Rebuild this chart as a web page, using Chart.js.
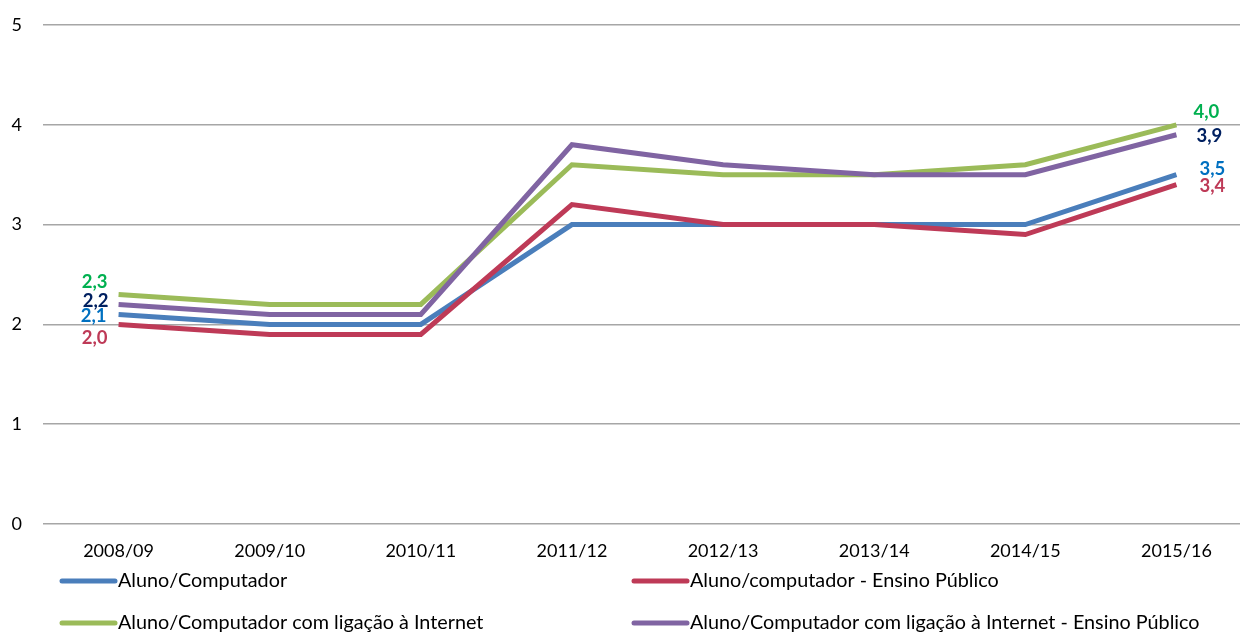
<!DOCTYPE html>
<html>
<head>
<meta charset="utf-8">
<script src="https://cdn.jsdelivr.net/npm/chart.js@4/dist/chart.umd.min.js"></script>
<style>
  html, body { margin: 0; padding: 0; background: #fff; overflow: hidden; }
  #wrap { width: 1240px; height: 635px; overflow: hidden; position: relative; }
  canvas { display: block; }
</style>
</head>
<body>
<div id="wrap"><canvas id="c" width="1256" height="635"></canvas></div>
<script>
const categories = ['2008/09', '2009/10', '2010/11', '2011/12', '2012/13', '2013/14', '2014/15', '2015/16'];
const alunoComputador = [2.1, 2.0, 2.0, 3.0, 3.0, 3.0, 3.0, 3.5];
const alunoComputadorPublico = [2.0, 1.9, 1.9, 3.2, 3.0, 3.0, 2.9, 3.4];
const alunoInternet = [2.3, 2.2, 2.2, 3.6, 3.5, 3.5, 3.6, 4.0];
const alunoInternetPublico = [2.2, 2.1, 2.1, 3.8, 3.6, 3.5, 3.5, 3.9];
const seriesNames = [
  'Aluno/Computador',
  'Aluno/computador - Ensino Público',
  'Aluno/Computador com ligação à Internet',
  'Aluno/Computador com ligação à Internet - Ensino Público'
];
const yMin = 0, yMax = 5, yStep = 1;

const FONT = 'Lato, "Open Sans", sans-serif';

const lineColors = ['#4A7EBB', '#BE3A57', '#9BBB59', '#8064A2'];
const labelColors = ['#0070C0', '#BE3A57', '#00B050', '#002060'];
// label offsets relative to first/last point [dx, dy]
const startOffsets = [[-25, 2], [-24, 14], [-24, -12], [-23, -3]];
const endOffsets = [[36, -6], [36, 1], [30, -13], [33, 1]];

const valueLabels = {
  id: 'valueLabels',
  afterDatasetsDraw(chart) {
    const ctx = chart.ctx;
    ctx.save();
    ctx.font = 'bold 18.5px ' + FONT;
    ctx.textAlign = 'center';
    ctx.textBaseline = 'middle';
    chart.data.datasets.forEach((ds, i) => {
      const meta = chart.getDatasetMeta(i);
      const pts = meta.data;
      const first = pts[0], last = pts[pts.length - 1];
      ctx.fillStyle = labelColors[i];
      const fmt = v => v.toFixed(1).replace('.', ',');
      ctx.fillText(fmt(ds.data[0]), first.x + startOffsets[i][0], first.y + startOffsets[i][1]);
      ctx.fillText(fmt(ds.data[ds.data.length - 1]), last.x + endOffsets[i][0], last.y + endOffsets[i][1]);
    });
    ctx.restore();
  }
};

const customLegend = {
  id: 'customLegend',
  afterDraw(chart) {
    const ctx = chart.ctx;
    const cols = [60, 632];
    const rows = [581, 623];
    ctx.save();
    ctx.font = '19.8px ' + FONT;
    ctx.textBaseline = 'middle';
    ctx.textAlign = 'left';
    chart.data.datasets.forEach((ds, i) => {
      const x = cols[i % 2], y = rows[Math.floor(i / 2)];
      ctx.strokeStyle = ds.borderColor;
      ctx.lineWidth = 5;
      ctx.lineCap = 'round';
      ctx.beginPath();
      ctx.moveTo(x + 2, y);
      ctx.lineTo(x + 55, y);
      ctx.stroke();
      ctx.fillStyle = '#000';
      ctx.fillText(ds.label, x + 58, y);
    });
    ctx.restore();
  }
};

const data = {
  labels: categories,
  datasets: [alunoComputador, alunoComputadorPublico, alunoInternet, alunoInternetPublico].map((d, i) => ({
    label: seriesNames[i],
    data: d,
    borderColor: lineColors[i],
    backgroundColor: lineColors[i],
    borderWidth: 5,
    pointRadius: 0,
    tension: 0,
    order: 4 - i
  }))
};

new Chart(document.getElementById('c'), {
  type: 'line',
  data,
  options: {
    responsive: false,
    maintainAspectRatio: false,
    animation: false,
    devicePixelRatio: 1,
    layout: { padding: { top: 25, right: 4, left: 0, bottom: 0 } },
    plugins: {
      legend: { display: false },
      tooltip: { enabled: false }
    },
    scales: {
      x: {
        offset: true,
        grid: { display: false, drawTicks: false },
        border: { display: false },
        ticks: { color: '#000', font: { family: FONT, size: 18 }, padding: 16, maxRotation: 0, autoSkip: false },
        afterFit(scale) { scale.height = 111; }
      },
      y: {
        min: yMin, max: yMax,
        ticks: { stepSize: yStep, color: '#000', font: { family: FONT, size: 18 }, padding: 21 },
        grid: { color: '#A6A6A6', lineWidth: 1.5, drawTicks: false },
        border: { display: false },
        afterFit(scale) { scale.width = 43; scale.paddingTop = 0; scale.paddingBottom = 0; }
      }
    }
  },
  plugins: [valueLabels, customLegend]
});
</script>
</body>
</html>
